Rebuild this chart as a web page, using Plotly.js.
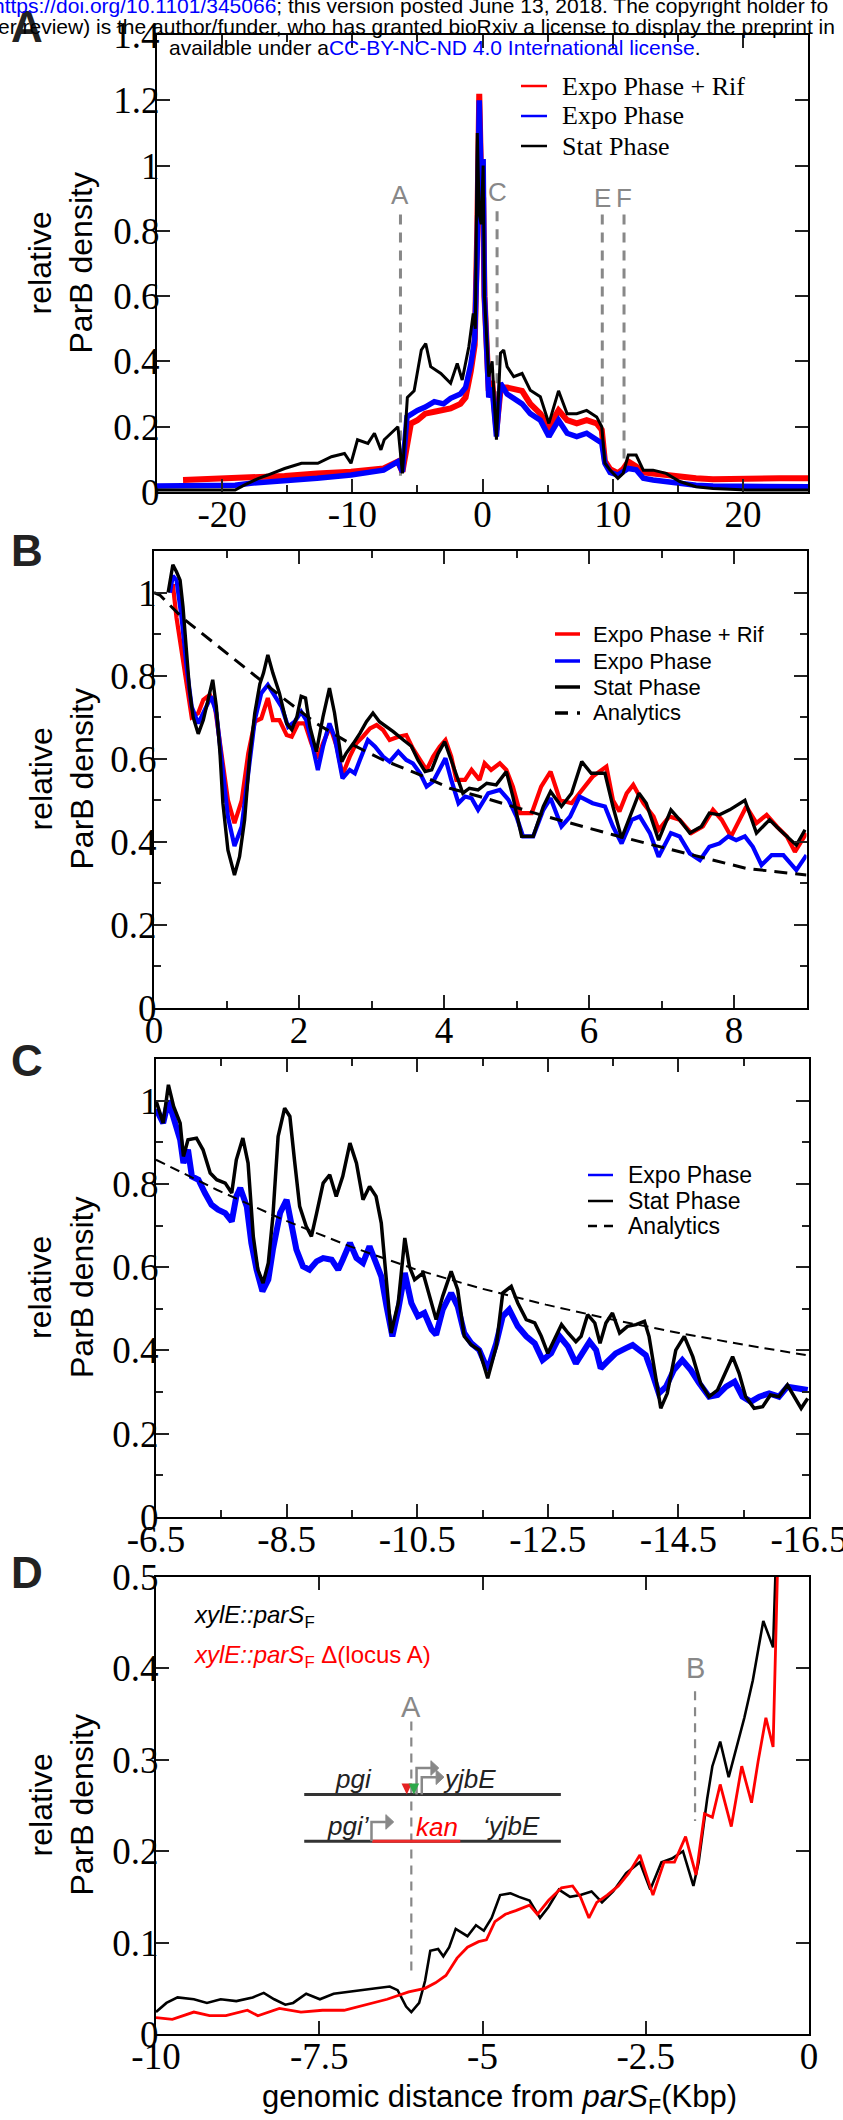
<!DOCTYPE html>
<html><head><meta charset="utf-8">
<script src="https://cdn.plot.ly/plotly-3.0.1.min.js"></script>
<style>body{margin:0;padding:0;background:#fff}#chart{width:843px;height:2120px}</style>
</head><body><div id="chart"></div>
<script>
// ---------------- DATA ----------------
// Panel A : relative ParB density vs genomic distance (kbp)
const aRif = [[-23,0.037],[-20,0.04],[-18,0.042],[-15.2,0.049],[-12.7,0.057],[-10.1,0.062],[-7.6,0.072],[-6.5,0.093],[-6.15,0.062],[-5.5,0.21],[-5.0,0.22],[-4.4,0.24],[-3.7,0.246],[-3.0,0.25],[-2.45,0.256],[-1.7,0.27],[-1.3,0.29],[-0.9,0.37],[-0.6,0.45],[-0.4,0.8],[-0.25,1.22],[-0.1,0.95],[0.05,0.9],[0.15,0.6],[0.3,0.43],[0.48,0.31],[0.74,0.34],[1.07,0.19],[1.38,0.31],[1.63,0.32],[1.89,0.32],[2.4,0.317],[3.04,0.31],[3.67,0.27],[4.44,0.24],[5.1,0.2],[5.84,0.25],[6.5,0.22],[7.24,0.21],[8.0,0.22],[8.77,0.21],[9.16,0.19],[9.4,0.095],[9.8,0.07],[10.4,0.058],[10.8,0.07],[11.2,0.093],[11.8,0.078],[12.35,0.06],[13.1,0.057],[14.1,0.052],[15.15,0.047],[16.4,0.042],[17.7,0.039],[20.3,0.042],[22.8,0.042],[25,0.042]];
const aExpo = [[-25,0.018],[-22,0.018],[-19,0.021],[-17.8,0.027],[-15.2,0.034],[-12.7,0.042],[-10.1,0.052],[-8.8,0.059],[-7.6,0.067],[-6.5,0.093],[-6.15,0.062],[-5.8,0.23],[-5.0,0.25],[-4.4,0.26],[-3.7,0.277],[-3.0,0.27],[-2.45,0.287],[-1.7,0.30],[-1.3,0.32],[-0.9,0.39],[-0.6,0.47],[-0.4,0.75],[-0.25,1.2],[-0.1,0.95],[0.05,1.02],[0.15,0.6],[0.3,0.42],[0.48,0.29],[0.74,0.32],[1.07,0.17],[1.38,0.333],[1.63,0.32],[1.89,0.30],[2.4,0.287],[3.04,0.27],[3.67,0.24],[4.44,0.22],[5.1,0.17],[5.84,0.22],[6.5,0.18],[7.24,0.17],[8.0,0.18],[8.77,0.16],[9.16,0.15],[9.4,0.088],[9.8,0.06],[10.4,0.052],[10.8,0.062],[11.2,0.072],[11.8,0.068],[12.35,0.042],[13.1,0.037],[14.1,0.031],[15.15,0.027],[16.4,0.021],[17.7,0.018],[20.3,0.016],[22.8,0.016],[25,0.016]];
const aStat = [[-25,0.006],[-19,0.006],[-18.3,0.021],[-17.2,0.042],[-16.5,0.052],[-15.2,0.072],[-13.9,0.088],[-12.65,0.088],[-11.6,0.108],[-10.6,0.118],[-10.1,0.088],[-9.6,0.16],[-8.8,0.149],[-8.3,0.18],[-7.8,0.129],[-7.55,0.16],[-6.5,0.2],[-6.15,0.057],[-5.77,0.29],[-5.25,0.31],[-4.7,0.435],[-4.36,0.455],[-3.98,0.384],[-3.2,0.363],[-2.45,0.333],[-1.94,0.394],[-1.56,0.343],[-1.05,0.445],[-0.71,0.547],[-0.55,0.5],[-0.4,1.1],[-0.25,0.85],[-0.1,0.82],[0.05,1.0],[0.15,0.6],[0.25,0.53],[0.36,0.435],[0.48,0.353],[0.74,0.40],[1.07,0.16],[1.38,0.425],[1.63,0.435],[1.89,0.384],[2.4,0.353],[3.04,0.363],[3.67,0.312],[4.44,0.292],[5.1,0.21],[5.84,0.31],[6.5,0.24],[7.24,0.24],[8.0,0.25],[8.77,0.23],[9.16,0.2],[9.4,0.088],[9.8,0.067],[10.4,0.042],[10.8,0.057],[11.2,0.113],[11.8,0.113],[12.35,0.067],[13.1,0.067],[14.1,0.057],[15.15,0.032],[16.4,0.016],[17.7,0.011],[20.3,0.006],[25,0.006]];
const aLoci = [["A",-6.3,0.85,0.05,0.91],["C",1.12,0.86,0.2,0.92],["E",9.2,0.85,0.2,0.90],["F",10.87,0.85,0.1,0.90]];
const aTickX = [-20,-10,0,10,20], aTickXText = ["-20","-10","0","10","20"], aMinorX = [-15,-5,5,15];
const aTickY = [0,0.2,0.4,0.6,0.8,1,1.2,1.4], aTickYText = ["0","0.2","0.4","0.6","0.8","1","1.2","1.4"];

// Panel B
const bRif = [[0.22,1.0],[0.26,1.02],[0.31,0.94],[0.38,0.862],[0.45,0.774],[0.52,0.70],[0.61,0.71],[0.68,0.742],[0.77,0.754],[0.84,0.726],[0.93,0.613],[1.02,0.50],[1.11,0.445],[1.21,0.50],[1.30,0.613],[1.39,0.689],[1.48,0.697],[1.57,0.746],[1.64,0.693],[1.73,0.693],[1.83,0.657],[1.90,0.653],[1.99,0.685],[2.08,0.685],[2.17,0.637],[2.26,0.601],[2.33,0.637],[2.43,0.677],[2.52,0.629],[2.60,0.561],[2.70,0.605],[2.79,0.637],[2.88,0.653],[2.98,0.673],[3.07,0.681],[3.16,0.669],[3.25,0.645],[3.37,0.653],[3.48,0.657],[3.57,0.625],[3.67,0.597],[3.76,0.573],[3.85,0.605],[3.94,0.629],[4.02,0.645],[4.10,0.605],[4.17,0.549],[4.29,0.549],[4.38,0.573],[4.49,0.549],[4.56,0.589],[4.65,0.573],[4.77,0.589],[4.86,0.573],[4.95,0.533],[5.05,0.469],[5.21,0.469],[5.34,0.533],[5.47,0.569],[5.60,0.50],[5.76,0.493],[5.87,0.517],[6.05,0.557],[6.24,0.581],[6.33,0.50],[6.42,0.473],[6.52,0.517],[6.61,0.537],[6.75,0.493],[6.89,0.461],[6.96,0.429],[7.11,0.461],[7.25,0.453],[7.41,0.421],[7.57,0.437],[7.71,0.477],[7.83,0.453],[7.96,0.413],[8.08,0.453],[8.17,0.485],[8.31,0.445],[8.45,0.465],[8.59,0.437],[8.73,0.413],[8.84,0.376],[9.0,0.421]];
const bExpo = [[0.22,1.0],[0.26,1.04],[0.31,1.03],[0.38,0.94],[0.45,0.82],[0.52,0.725],[0.61,0.685],[0.68,0.71],[0.79,0.75],[0.86,0.71],[0.93,0.597],[1.02,0.46],[1.11,0.39],[1.21,0.437],[1.30,0.565],[1.39,0.693],[1.48,0.758],[1.57,0.778],[1.67,0.75],[1.76,0.725],[1.85,0.677],[1.94,0.689],[2.03,0.713],[2.10,0.693],[2.17,0.645],[2.26,0.573],[2.33,0.629],[2.42,0.685],[2.49,0.653],[2.60,0.553],[2.70,0.573],[2.77,0.565],[2.84,0.597],[2.95,0.645],[3.05,0.629],[3.16,0.605],[3.25,0.593],[3.37,0.617],[3.48,0.597],[3.57,0.589],[3.67,0.565],[3.76,0.533],[3.85,0.545],[3.94,0.573],[4.02,0.601],[4.10,0.549],[4.20,0.493],[4.29,0.509],[4.38,0.505],[4.47,0.477],[4.61,0.517],[4.77,0.525],[4.89,0.501],[5.00,0.461],[5.09,0.413],[5.23,0.413],[5.37,0.477],[5.47,0.505],[5.62,0.437],[5.74,0.461],[5.87,0.509],[6.05,0.493],[6.22,0.485],[6.33,0.437],[6.45,0.396],[6.59,0.453],[6.70,0.461],[6.84,0.421],[6.96,0.364],[7.13,0.421],[7.25,0.413],[7.39,0.372],[7.53,0.356],[7.66,0.388],[7.80,0.396],[7.92,0.413],[8.03,0.404],[8.15,0.413],[8.26,0.388],[8.38,0.344],[8.52,0.368],[8.68,0.368],[8.86,0.332],[9.0,0.368]];
const bStat = [[0.195,1.0],[0.26,1.067],[0.31,1.05],[0.36,1.03],[0.40,0.966],[0.45,0.862],[0.49,0.766],[0.54,0.70],[0.61,0.66],[0.68,0.693],[0.75,0.75],[0.81,0.79],[0.86,0.726],[0.91,0.613],[0.95,0.493],[1.02,0.38],[1.11,0.32],[1.18,0.364],[1.25,0.453],[1.32,0.605],[1.39,0.71],[1.46,0.78],[1.51,0.806],[1.57,0.85],[1.64,0.806],[1.73,0.758],[1.83,0.685],[1.90,0.67],[1.97,0.70],[2.03,0.75],[2.09,0.746],[2.15,0.677],[2.24,0.617],[2.33,0.70],[2.42,0.77],[2.49,0.71],[2.59,0.593],[2.65,0.613],[2.75,0.637],[2.84,0.661],[2.93,0.689],[3.02,0.71],[3.11,0.689],[3.21,0.677],[3.30,0.665],[3.44,0.645],[3.55,0.63],[3.64,0.597],[3.74,0.569],[3.83,0.573],[3.92,0.613],[4.01,0.641],[4.10,0.597],[4.20,0.549],[4.26,0.517],[4.35,0.529],[4.47,0.525],[4.59,0.541],[4.72,0.537],[4.86,0.569],[4.95,0.509],[5.07,0.413],[5.23,0.413],[5.37,0.485],[5.47,0.521],[5.62,0.485],[5.76,0.517],[5.90,0.593],[6.03,0.565],[6.22,0.565],[6.33,0.485],[6.45,0.409],[6.56,0.461],[6.69,0.517],[6.79,0.493],[6.96,0.404],[7.13,0.477],[7.25,0.453],[7.39,0.421],[7.55,0.437],[7.66,0.469],[7.80,0.465],[7.94,0.477],[8.15,0.50],[8.31,0.421],[8.49,0.453],[8.63,0.429],[8.86,0.392],[8.98,0.429]];
const bAnalytic = [[0,1.0],[0.08,0.994],[0.40,0.938],[0.86,0.874],[1.32,0.81],[1.78,0.746],[2.24,0.685],[2.70,0.637],[3.16,0.597],[3.62,0.565],[4.08,0.529],[4.49,0.509],[5.41,0.461],[6.33,0.417],[7.25,0.376],[8.17,0.336],[9.0,0.32]];
const bTickX = [0,2,4,6,8], bTickXText = ["0","2","4","6","8"], bMinorX = [1,3,5,7];
const bcTickY = [0,0.2,0.4,0.6,0.8,1], bcTickYText = ["0","0.2","0.4","0.6","0.8","1"], bcMinorY = [0.1,0.3,0.5,0.7,0.9];

// Panel C
const cExpo = [[-6.5,0.98],[-6.61,0.946],[-6.69,1.0],[-6.79,0.946],[-6.87,0.906],[-6.92,0.85],[-6.99,0.882],[-7.05,0.818],[-7.15,0.81],[-7.25,0.778],[-7.35,0.75],[-7.45,0.738],[-7.56,0.73],[-7.66,0.71],[-7.73,0.77],[-7.79,0.79],[-7.89,0.746],[-7.96,0.658],[-8.04,0.594],[-8.13,0.542],[-8.22,0.57],[-8.29,0.642],[-8.40,0.73],[-8.50,0.762],[-8.57,0.698],[-8.65,0.642],[-8.75,0.602],[-8.85,0.594],[-8.96,0.614],[-9.06,0.622],[-9.19,0.618],[-9.29,0.594],[-9.36,0.618],[-9.47,0.658],[-9.57,0.622],[-9.67,0.61],[-9.77,0.65],[-9.85,0.618],[-9.95,0.578],[-10.03,0.506],[-10.12,0.434],[-10.21,0.498],[-10.31,0.586],[-10.41,0.514],[-10.51,0.482],[-10.61,0.49],[-10.72,0.45],[-10.79,0.438],[-10.89,0.498],[-11.02,0.538],[-11.12,0.506],[-11.22,0.442],[-11.33,0.417],[-11.45,0.401],[-11.58,0.353],[-11.71,0.417],[-11.81,0.482],[-11.91,0.498],[-12.04,0.458],[-12.17,0.434],[-12.30,0.417],[-12.42,0.377],[-12.55,0.393],[-12.68,0.434],[-12.81,0.409],[-12.93,0.369],[-13.03,0.393],[-13.14,0.421],[-13.24,0.401],[-13.31,0.357],[-13.41,0.373],[-13.54,0.393],[-13.69,0.405],[-13.80,0.413],[-13.90,0.401],[-14.00,0.389],[-14.10,0.345],[-14.20,0.297],[-14.31,0.313],[-14.43,0.353],[-14.56,0.377],[-14.69,0.353],[-14.82,0.321],[-14.97,0.289],[-15.10,0.293],[-15.23,0.313],[-15.36,0.325],[-15.48,0.289],[-15.61,0.277],[-15.74,0.289],[-15.89,0.297],[-16.04,0.289],[-16.17,0.313],[-16.30,0.309],[-16.48,0.305]];
const cStat = [[-6.5,1.0],[-6.61,0.946],[-6.69,1.038],[-6.77,0.986],[-6.87,0.946],[-6.92,0.866],[-6.99,0.906],[-7.12,0.91],[-7.22,0.882],[-7.33,0.826],[-7.43,0.81],[-7.56,0.802],[-7.66,0.778],[-7.73,0.858],[-7.83,0.91],[-7.91,0.85],[-7.99,0.674],[-8.06,0.594],[-8.14,0.562],[-8.22,0.61],[-8.29,0.722],[-8.37,0.914],[-8.47,0.982],[-8.55,0.962],[-8.62,0.858],[-8.70,0.746],[-8.80,0.698],[-8.88,0.674],[-8.96,0.73],[-9.06,0.802],[-9.16,0.822],[-9.26,0.77],[-9.36,0.818],[-9.47,0.898],[-9.57,0.85],[-9.67,0.762],[-9.77,0.794],[-9.87,0.77],[-9.95,0.706],[-10.03,0.562],[-10.10,0.442],[-10.21,0.514],[-10.31,0.67],[-10.38,0.602],[-10.46,0.57],[-10.59,0.586],[-10.69,0.53],[-10.79,0.474],[-10.89,0.53],[-11.02,0.59],[-11.12,0.546],[-11.22,0.434],[-11.33,0.413],[-11.45,0.401],[-11.58,0.333],[-11.71,0.409],[-11.81,0.538],[-11.94,0.554],[-12.04,0.514],[-12.17,0.474],[-12.30,0.466],[-12.40,0.434],[-12.50,0.393],[-12.60,0.425],[-12.71,0.462],[-12.81,0.442],[-12.93,0.421],[-13.01,0.434],[-13.11,0.486],[-13.22,0.466],[-13.30,0.417],[-13.39,0.466],[-13.49,0.49],[-13.60,0.442],[-13.72,0.458],[-13.85,0.462],[-13.98,0.47],[-14.05,0.434],[-14.13,0.353],[-14.23,0.261],[-14.33,0.297],[-14.46,0.401],[-14.59,0.434],[-14.72,0.385],[-14.84,0.321],[-14.97,0.289],[-15.10,0.305],[-15.23,0.353],[-15.33,0.385],[-15.43,0.345],[-15.53,0.289],[-15.66,0.261],[-15.79,0.265],[-15.91,0.293],[-16.04,0.289],[-16.17,0.317],[-16.28,0.289],[-16.38,0.261],[-16.48,0.285]];
const cAnalytic = [[-6.5,0.858],[-7.43,0.786],[-8.45,0.714],[-9.47,0.65],[-10.49,0.594],[-11.45,0.55],[-12.47,0.51],[-13.49,0.474],[-14.51,0.442],[-15.53,0.413],[-16.45,0.389]];
const cTickX = [-6.5,-8.5,-10.5,-12.5,-14.5,-16.5], cTickXText = ["-6.5","-8.5","-10.5","-12.5","-14.5","-16.5"], cMinorX = [-7.5,-9.5,-11.5,-13.5,-15.5];

// Panel D
const dWT = [[-10,0.024],[-9.84,0.034],[-9.67,0.04],[-9.42,0.038],[-9.22,0.034],[-9.01,0.038],[-8.77,0.036],[-8.52,0.04],[-8.35,0.045],[-8.19,0.038],[-8.02,0.032],[-7.90,0.034],[-7.70,0.044],[-7.49,0.038],[-7.28,0.044],[-7.04,0.046],[-6.79,0.048],[-6.63,0.05],[-6.42,0.052],[-6.30,0.048],[-6.17,0.03],[-6.09,0.024],[-5.97,0.034],[-5.88,0.058],[-5.80,0.091],[-5.68,0.093],[-5.60,0.085],[-5.51,0.095],[-5.41,0.115],[-5.31,0.111],[-5.23,0.107],[-5.10,0.119],[-4.98,0.113],[-4.86,0.127],[-4.73,0.152],[-4.57,0.154],[-4.44,0.15],[-4.28,0.146],[-4.12,0.127],[-3.99,0.139],[-3.83,0.158],[-3.66,0.15],[-3.50,0.152],[-3.33,0.156],[-3.17,0.144],[-3.00,0.156],[-2.80,0.176],[-2.59,0.188],[-2.43,0.158],[-2.26,0.188],[-2.10,0.192],[-1.93,0.2],[-1.77,0.162],[-1.69,0.188],[-1.56,0.257],[-1.48,0.293],[-1.36,0.32],[-1.23,0.281],[-1.11,0.314],[-0.99,0.346],[-0.86,0.387],[-0.70,0.452],[-0.55,0.423],[-0.51,0.5],[-0.47,0.6]];
const dDelA = [[-10,0.018],[-9.75,0.016],[-9.42,0.024],[-9.18,0.02],[-8.93,0.02],[-8.60,0.026],[-8.44,0.02],[-8.11,0.028],[-7.78,0.024],[-7.45,0.026],[-7.12,0.026],[-6.79,0.032],[-6.46,0.038],[-6.13,0.046],[-5.88,0.05],[-5.72,0.056],[-5.56,0.064],[-5.39,0.083],[-5.23,0.095],[-5.06,0.101],[-4.94,0.103],[-4.81,0.123],[-4.65,0.131],[-4.49,0.135],[-4.28,0.141],[-4.16,0.131],[-3.99,0.146],[-3.79,0.16],[-3.62,0.162],[-3.50,0.15],[-3.37,0.127],[-3.25,0.144],[-3.09,0.152],[-2.92,0.162],[-2.76,0.176],[-2.59,0.196],[-2.39,0.152],[-2.22,0.188],[-2.06,0.188],[-1.89,0.216],[-1.73,0.174],[-1.60,0.241],[-1.48,0.237],[-1.36,0.273],[-1.19,0.227],[-1.03,0.293],[-0.88,0.253],[-0.78,0.298],[-0.66,0.346],[-0.55,0.314],[-0.49,0.5],[-0.45,0.6]];
const dLoci = [["A",-6.09,0.342,0.064,0.358],["B",-1.745,0.375,0.233,0.40]];
const dTickX = [-10,-7.5,-5,-2.5,0], dTickXText = ["-10","-7.5","-5","-2.5","0"];
const dTickY = [0,0.1,0.2,0.3,0.4,0.5], dTickYText = ["0","0.1","0.2","0.3","0.4","0.5"];

// ---------------- helpers ----------------
const W = 843, H = 2120;
const fx = p => p / W, fy = p => 1 - p / H;
const RED = '#ff0000', BLUE = '#0000ff', BLACK = '#000000', GREY = '#888888';
const SERIF = 'Liberation Serif', SANS = 'Liberation Sans';
const xs = a => a.map(p => p[0]), ys = a => a.map(p => p[1]);
function line(data, name, color, width, xa, ya, dash) {
  return {type:'scatter', mode:'lines', x:xs(data), y:ys(data), name:name, xaxis:xa, yaxis:ya,
    line:{color:color, width:width, dash:dash||'solid'}, showlegend:false, hoverinfo:'skip'};
}
function ax(o) {
  return Object.assign({showline:true, linecolor:'#000', linewidth:2, mirror:'ticks', ticks:'inside',
    ticklen:13, tickwidth:2, tickcolor:'#222', showgrid:false, zeroline:false, tickmode:'array',
    ticklabeloverflow:'allow', tickfont:{family:SERIF, size:37, color:'#000'}, fixedrange:true}, o);
}
const X = o => ax(Object.assign({ticklabelstandoff:-11}, o));
const Y = o => ax(Object.assign({ticklabelstandoff:-12}, o));
function minor(vals) { return {tickvals:vals, ticks:'inside', ticklen:7, tickwidth:2, tickcolor:'#222', showgrid:false}; }

const traces = [
  line(aRif, 'Expo Phase + Rif', RED, 6, 'x', 'y'),
  line(aExpo, 'Expo Phase', BLUE, 5.5, 'x', 'y'),
  line(aStat, 'Stat Phase', BLACK, 3, 'x', 'y'),
  line(bRif, 'Expo Phase + Rif', RED, 4.2, 'x2', 'y2'),
  line(bExpo, 'Expo Phase', BLUE, 4.2, 'x2', 'y2'),
  line(bStat, 'Stat Phase', BLACK, 3.4, 'x2', 'y2'),
  line(bAnalytic, 'Analytics', BLACK, 3, 'x2', 'y2', '13px,8px'),
  line(cExpo, 'Expo Phase', BLUE, 6, 'x3', 'y3'),
  line(cStat, 'Stat Phase', BLACK, 3.5, 'x3', 'y3'),
  line(cAnalytic, 'Analytics', BLACK, 2, 'x3', 'y3', '10px,6px'),
  line(dWT, 'xylE::parSF', BLACK, 2.6, 'x4', 'y4'),
  line(dDelA, 'xylE::parSF Δ(locus A)', RED, 2.8, 'x4', 'y4')
];

const shapes = [], annotations = [];
function note(o) { annotations.push(Object.assign({showarrow:false, xanchor:'center', yanchor:'middle'}, o)); }
// locus markers
aLoci.forEach(l => {
  shapes.push({type:'line', xref:'x', yref:'y', x0:l[1], x1:l[1], y0:l[2], y1:l[3], layer:'below', line:{color:GREY, width:3, dash:'10px,8px'}});
  note({xref:'x', yref:'y', x:l[1], y:l[4], text:l[0], font:{family:SANS, size:26, color:GREY}});
});
dLoci.forEach(l => {
  shapes.push({type:'line', xref:'x4', yref:'y4', x0:l[1], x1:l[1], y0:l[2], y1:l[3], layer:'below', line:{color:GREY, width:2.2, dash:'9px,7px'}});
  note({xref:'x4', yref:'y4', x:l[1], y:l[4], text:l[0], font:{family:SANS, size:29, color:GREY}});
});

// manual legends (sample line + label)
function legend(items, x0, x1, tx, font, size) {
  items.forEach(it => {
    shapes.push({type:'line', xref:'paper', yref:'paper', x0:fx(x0), x1:fx(x1), y0:fy(it[3]), y1:fy(it[3]), line:{color:it[1], width:it[2], dash:it[4]||'solid'}});
    note({xref:'paper', yref:'paper', x:fx(tx), y:fy(it[3]), xanchor:'left', text:it[0], font:{family:font, size:size, color:'#000'}});
  });
}
legend([['Expo Phase + Rif', RED, 2.5, 86], ['Expo Phase', BLUE, 2.5, 116], ['Stat Phase', BLACK, 2.5, 146]], 521, 547, 560, SERIF, 26);
legend([['Expo Phase + Rif', RED, 3.5, 634], ['Expo Phase', BLUE, 3.5, 661], ['Stat Phase', BLACK, 3.5, 687], ['Analytics', BLACK, 3.5, 713, '13px,9px,3px,100px']], 555, 580, 591, SANS, 22);
legend([['Expo Phase', BLUE, 2.5, 1175], ['Stat Phase', BLACK, 2.5, 1201], ['Analytics', BLACK, 2.5, 1226, '9px,7px']], 588, 613, 626, SANS, 23);

// y titles & panel letters
[[263.5,'A',27],[779.5,'B',550],[1288,'C',1060],[1805.5,'D',1572]].forEach(p => {
  note({xref:'paper', yref:'paper', x:fx(61), y:fy(p[0]), text:'relative<br>ParB density', textangle:-90, font:{family:SANS, size:32, color:'#000'}});
  note({xref:'paper', yref:'paper', x:fx(27), y:fy(p[2]), text:'<b>'+p[1]+'</b>', font:{family:SANS, size:44, color:'#222'}});
});
// D x title
note({xref:'paper', yref:'paper', x:fx(499), y:fy(2099), text:'genomic distance from <i>parS</i><sub>F</sub>(Kbp)', font:{family:SANS, size:31, color:'#000'}});
// D labels
note({xref:'paper', yref:'paper', x:fx(192), y:fy(1616), xanchor:'left', text:'<i>xylE::parS</i><sub>F</sub>', font:{family:SANS, size:24, color:'#000'}});
note({xref:'paper', yref:'paper', x:fx(192), y:fy(1656), xanchor:'left', text:'<i>xylE::parS</i><sub>F</sub> Δ(locus A)', font:{family:SANS, size:24, color:RED}});
// gene diagram (in D data coords)
const gd = {xL:-7.73, xR:-3.80, yTop:0.262, yBot:0.211, kan0:-6.69, kan1:-5.34};
shapes.push({type:'line', xref:'x4', yref:'y4', x0:gd.xL, x1:gd.xR, y0:gd.yTop, y1:gd.yTop, line:{color:'#333', width:3}});
shapes.push({type:'line', xref:'x4', yref:'y4', x0:gd.xL, x1:gd.xR, y0:gd.yBot, y1:gd.yBot, line:{color:'#333', width:3}});
shapes.push({type:'line', xref:'x4', yref:'y4', x0:gd.kan0, x1:gd.kan1, y0:gd.yBot, y1:gd.yBot, line:{color:'#ee2a2a', width:3}});
function promoter(x, y0, y1, len) {
  shapes.push({type:'path', xref:'x4', yref:'y4', path:`M ${x} ${y0} L ${x} ${y1} L ${x+len} ${y1}`, line:{color:'#888', width:2.5}});
  shapes.push({type:'path', xref:'x4', yref:'y4', path:`M ${x+len} ${y1+0.008} L ${x+len+0.12} ${y1} L ${x+len} ${y1-0.008} Z`, fillcolor:'#888', line:{color:'#888', width:1}});
}
promoter(-6.01, gd.yTop, 0.291, 0.22);
promoter(-5.93, gd.yTop, 0.281, 0.22);
promoter(-6.7, gd.yBot, 0.232, 0.22);
shapes.push({type:'path', xref:'x4', yref:'y4', path:'M -6.24 0.274 L -6.08 0.274 L -6.16 0.262 Z', fillcolor:'#e52222', line:{width:0}});
shapes.push({type:'path', xref:'x4', yref:'y4', path:'M -6.13 0.274 L -5.97 0.274 L -6.05 0.262 Z', fillcolor:'#2da84a', line:{width:0}});
[['<i>pgi</i>', -6.97, 0.279, '#222'], ['<i>yjbE</i>', -5.2, 0.279, '#222'], ['<i>pgi’</i>', -7.05, 0.228, '#222'], ['<i>kan</i>', -5.7, 0.226, RED], ['<i>‘yjbE</i>', -4.55, 0.228, '#222']].forEach(g => {
  note({xref:'x4', yref:'y4', x:g[1], y:g[2], text:g[0], font:{family:SANS, size:26, color:g[3]}});
});

// header (preprint stamp)
note({xref:'paper', yref:'paper', x:fx(-9), y:fy(5), xanchor:'left', text:'<span style="color:#0000ff">https://doi.org/10.1101/345066</span>; this version posted June 13, 2018. The copyright holder fo', font:{family:SANS, size:21, color:'#000'}});
note({xref:'paper', yref:'paper', x:fx(-4), y:fy(26), xanchor:'left', text:'er review) is the author/funder, who has granted bioRxiv a license to display the preprint in', font:{family:SANS, size:21, color:'#000'}});
note({xref:'paper', yref:'paper', x:fx(167), y:fy(48), xanchor:'left', text:'available under a<span style="color:#0000ff">CC-BY-NC-ND 4.0 International license</span>.', font:{family:SANS, size:21, color:'#000'}});

const layout = {
  width:W, height:H, margin:{l:0, r:0, t:0, b:0}, paper_bgcolor:'#fff', plot_bgcolor:'#fff', showlegend:false,
  xaxis: X({domain:[fx(157), fx(808)], range:[-25,25], anchor:'y', tickvals:aTickX, ticktext:aTickXText, minor:minor(aMinorX)}),
  yaxis: Y({domain:[fy(492), fy(35)], range:[0,1.4], anchor:'x', tickvals:aTickY, ticktext:aTickYText}),
  xaxis2: X({domain:[fx(154), fx(806.5)], range:[0,9], anchor:'y2', tickvals:bTickX, ticktext:bTickXText, minor:minor(bMinorX)}),
  yaxis2: Y({domain:[fy(1008), fy(551)], range:[0,1.1], anchor:'x2', tickvals:bcTickY, ticktext:bcTickYText, minor:minor(bcMinorY)}),
  xaxis3: X({domain:[fx(156), fx(809)], range:[-6.5,-16.5], anchor:'y3', tickvals:cTickX, ticktext:cTickXText, minor:minor(cMinorX)}),
  yaxis3: Y({domain:[fy(1517), fy(1059)], range:[0,1.1], anchor:'x3', tickvals:bcTickY, ticktext:bcTickYText, minor:minor(bcMinorY)}),
  xaxis4: X({domain:[fx(156), fx(809)], range:[-10,0], anchor:'y4', tickvals:dTickX, ticktext:dTickXText}),
  yaxis4: Y({domain:[fy(2034), fy(1577)], range:[0,0.5], anchor:'x4', tickvals:dTickY, ticktext:dTickYText}),
  shapes:shapes, annotations:annotations
};
Plotly.newPlot('chart', traces, layout, {staticPlot:true, displayModeBar:false});
</script></body></html>
